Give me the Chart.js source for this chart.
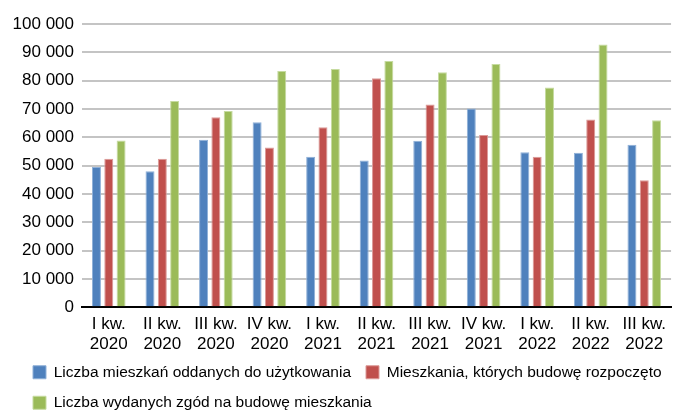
<!DOCTYPE html>
<html>
<head>
<meta charset="utf-8">
<script src="https://cdn.jsdelivr.net/npm/chart.js@4/dist/chart.umd.min.js"></script>
<style>
html,body{margin:0;padding:0;background:#fff;}
#wrap{width:673px;height:412px;position:relative;}
</style>
</head>
<body>
<div id="wrap"><canvas id="c"></canvas></div>
<script>
const quarters = ['I kw.', 'II kw.', 'III kw.', 'IV kw.', 'I kw.', 'II kw.', 'III kw.', 'IV kw.', 'I kw.', 'II kw.', 'III kw.'];
const years = ['2020', '2020', '2020', '2020', '2021', '2021', '2021', '2021', '2022', '2022', '2022'];
const seriesNames = ['Liczba mieszkań oddanych do użytkowania', 'Mieszkania, których budowę rozpoczęto', 'Liczba wydanych zgód na budowę mieszkania'];
const oddane = [49500, 48000, 59100, 65300, 53100, 51800, 58800, 70200, 54700, 54500, 57400];
const rozpoczete = [52400, 52400, 67100, 56400, 63500, 80800, 71600, 60800, 53100, 66300, 44800];
const pozwolenia = [58900, 72800, 69300, 83400, 84100, 86900, 83000, 85900, 77600, 92800, 66000];
const yTicks = [0, 10000, 20000, 30000, 40000, 50000, 60000, 70000, 80000, 90000, 100000];

const FONT = "'Liberation Sans', Arial, sans-serif";
const labels = quarters.map((q, i) => [q, years[i]]);
function fmt(v){ return String(v).replace(/\B(?=(\d{3})+(?!\d))/g, ' '); }

const legendShift = {
  id: 'legendShift',
  afterLayout(chart){
    const lg = chart.legend;
    if (!lg) return;
    lg.left += 18; lg.right += 18;
    lg.top -= 12.5; lg.bottom -= 12.5;
  }
};

new Chart(document.getElementById('c'), {
  type: 'bar',
  data: {
    labels: labels,
    datasets: [
      {label: seriesNames[0], data: oddane, backgroundColor: '#4f81bd', borderColor: '#8fb0d8', borderWidth: 1},
      {label: seriesNames[1], data: rozpoczete, backgroundColor: '#c0504d', borderColor: '#dc9a98', borderWidth: 1},
      {label: seriesNames[2], data: pozwolenia, backgroundColor: '#9bbb59', borderColor: '#c6dba0', borderWidth: 1}
    ]
  },
  options: {
    responsive: true,
    maintainAspectRatio: false,
    animation: false,
    datasets: {bar: {categoryPercentage: 0.69, barPercentage: 0.73}},
    layout: {padding: {top: 24, right: 0, left: 0, bottom: -21}},
    plugins: {
      tooltip: {enabled: false},
      legend: {
        position: 'bottom',
        align: 'start',
        labels: {
          font: {family: FONT, size: 15.5},
          color: '#000',
          boxWidth: 13,
          boxHeight: 13,
          padding: 15
        }
      }
    },
    scales: {
      x: {
        grid: {display: false, drawTicks: false},
        border: {color: '#000', width: 2},
        ticks: {font: {family: FONT, size: 17, lineHeight: 1.2}, color: '#000', maxRotation: 0, autoSkip: false, padding: 7}
      },
      y: {
        min: 0, max: 100000,
        afterBuildTicks(axis){ axis.ticks = yTicks.map(v => ({value: v})); },
        afterFit(axis){ axis.width = 82; },
        grid: {color: '#c4c4c4', lineWidth: 2, drawTicks: false},
        border: {display: false},
        ticks: {font: {family: FONT, size: 17}, color: '#000', padding: 8, callback: v => fmt(v)}
      }
    }
  },
  plugins: [legendShift]
});
</script>
</body>
</html>
